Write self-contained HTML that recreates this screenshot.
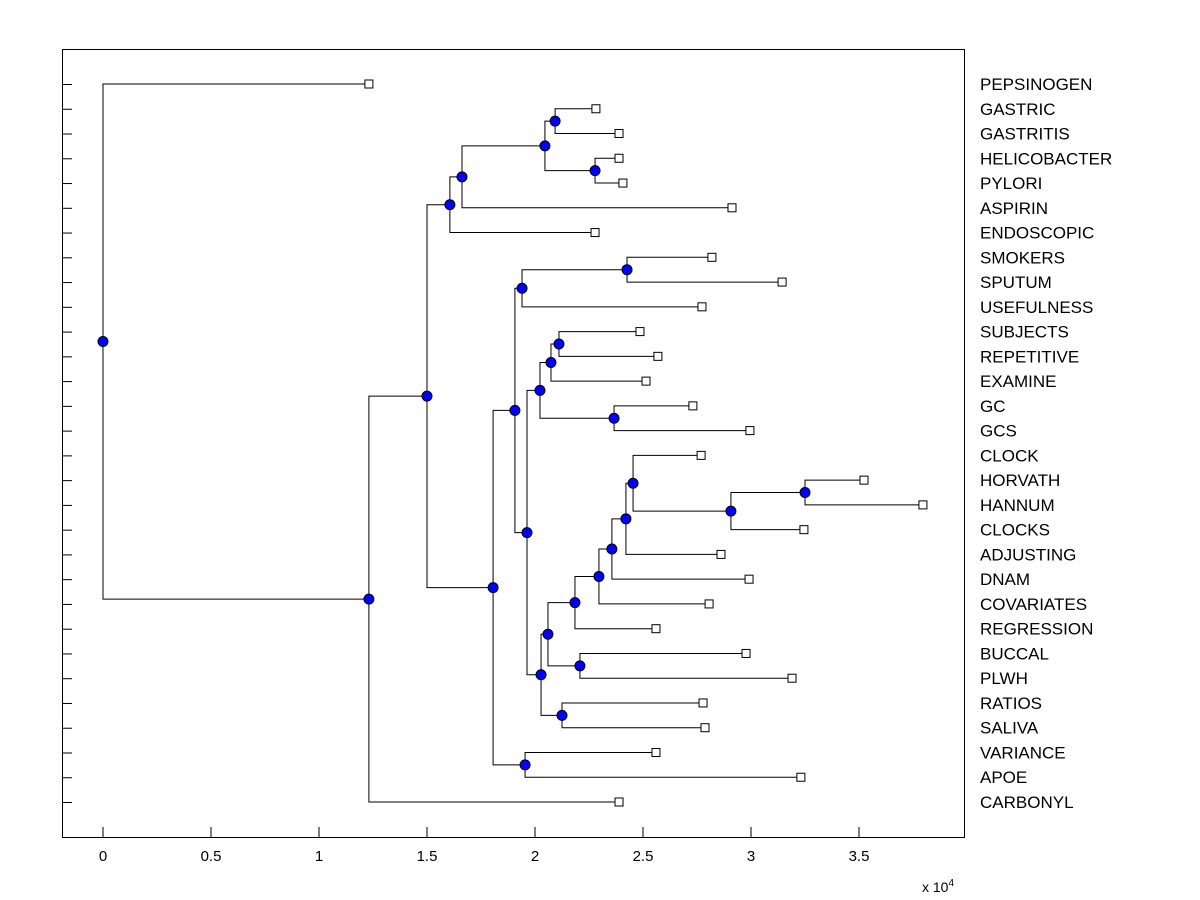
<!DOCTYPE html>
<html><head><meta charset="utf-8"><style>
body{margin:0;background:#fff;}
svg{display:block;font-family:"Liberation Sans",Arial,sans-serif;}
</style></head><body>
<svg id="chart" width="1200" height="900" viewBox="0 0 1200 900" xmlns="http://www.w3.org/2000/svg">
<rect x="0" y="0" width="1200" height="900" fill="#fff"/>
<rect x="62.5" y="49.5" width="902" height="788" fill="#fff" stroke="#000" stroke-width="1"/>
<g id="ticks"></g><g id="links"></g><g id="marks"></g><g id="labels"></g>
<text x="922" y="892" font-size="14">x 10<tspan dy="-6" font-size="10">4</tspan></text>
</svg>
<script>
const leafNames=["PEPSINOGEN","GASTRIC","GASTRITIS","HELICOBACTER","PYLORI","ASPIRIN","ENDOSCOPIC","SMOKERS","SPUTUM","USEFULNESS","SUBJECTS","REPETITIVE","EXAMINE","GC","GCS","CLOCK","HORVATH","HANNUM","CLOCKS","ADJUSTING","DNAM","COVARIATES","REGRESSION","BUCCAL","PLWH","RATIOS","SALIVA","VARIANCE","APOE","CARBONYL"];
const leafValues=[1.231,2.282,2.389,2.389,2.407,2.912,2.278,2.819,3.144,2.773,2.486,2.569,2.514,2.731,2.995,2.769,3.523,3.796,3.245,2.861,2.991,2.806,2.560,2.977,3.190,2.778,2.787,2.560,3.231,2.389];
const mergeLeft=[1,3,30,32,33,7,35,10,37,13,38,16,41,15,43,44,45,46,23,47,25,49,40,36,27,53,34,56,0];
const mergeRight=[2,4,31,5,6,8,9,11,12,14,39,17,18,42,19,20,21,22,24,48,26,50,51,52,28,54,55,29,57];
const mergeHeights=[2.093,2.278,2.046,1.662,1.606,2.426,1.940,2.111,2.074,2.366,2.023,3.250,2.907,2.454,2.421,2.356,2.296,2.185,2.208,2.060,2.125,2.028,1.963,1.907,1.954,1.806,1.500,1.231,0];
const xTicks=[0,0.5,1,1.5,2,2.5,3,3.5];
const xTickLabels=["0","0.5","1","1.5","2","2.5","3","3.5"];

const NS="http://www.w3.org/2000/svg";
const xs=v=>103+216*v;
const ys=i=>84+i*(802-84)/29;
function mk(tag,attrs,parent){const e=document.createElementNS(NS,tag);for(const k in attrs)e.setAttribute(k,attrs[k]);document.getElementById(parent).appendChild(e);return e;}
xTicks.forEach((t,i)=>{
  const l=mk('line',{x1:xs(t),x2:xs(t),y1:837,y2:827,stroke:'#000'},'ticks');
  
  
  const tx=mk('text',{x:xs(t),y:861,'font-size':15,'text-anchor':'middle'},'labels');
  tx.textContent=xTickLabels[i];
  
  
});
leafNames.forEach((n,i)=>{
  const l=mk('line',{x1:62,x2:72,y1:ys(i)+0.5,y2:ys(i)+0.5,stroke:'#000'},'ticks');
  
  
  const tx=mk('text',{x:980,y:ys(i)+6,'font-size':17},'labels');
  tx.textContent=n;
  
  
});
const N=leafNames.length;
const posY=[],posX=[];
leafNames.forEach((n,i)=>{posY[i]=ys(i);posX[i]=xs(leafValues[i]);});
mergeHeights.forEach((h,k)=>{
  const a=mergeLeft[k],b=mergeRight[k],id=N+k;
  posY[id]=(posY[a]+posY[b])/2;posX[id]=xs(h);
  const x=xs(h);
  let p=mk('path',{d:`M${posX[a]} ${posY[a]}H${x}V${posY[b]}H${posX[b]}`,fill:'none',stroke:'#000','stroke-width':1},'links');
  
  
});
leafNames.forEach((n,i)=>{
  const r=mk('rect',{x:posX[i]-4,y:posY[i]-4,width:8,height:8,fill:'#fff',stroke:'#000'},'marks');
  
  
});
mergeHeights.forEach((h,k)=>{
  const c=mk('circle',{cx:posX[N+k],cy:posY[N+k],r:5,fill:'#0000ff',stroke:'#000','stroke-width':1},'marks');
  
  
});
</script>
</body></html>
